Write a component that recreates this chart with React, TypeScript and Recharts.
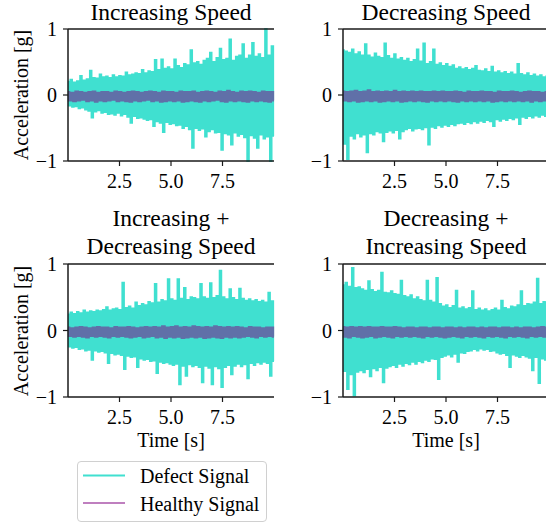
import { LineChart, Line, XAxis, YAxis, ReferenceLine } from 'recharts';

// peak / trough envelopes of the defect signal (g)
const incUp = [
  0.2, 0.23, 0.19, 0.21, 0.29, 0.22, 0.24, 0.37,
  0.26, 0.25, 0.31, 0.27, 0.28, 0.26, 0.3, 0.27,
  0.29, 0.28, 0.34, 0.3, 0.31, 0.33, 0.32, 0.38,
  0.33, 0.36, 0.35, 0.53, 0.38, 0.54, 0.4, 0.42,
  0.39, 0.54, 0.44, 0.41, 0.47, 0.45, 0.68, 0.48,
  0.5, 0.46, 0.52, 0.55, 0.64, 0.5, 0.56, 0.7,
  0.53, 0.55, 0.84, 0.52, 0.58, 0.6, 0.77, 0.55,
  0.6, 0.79, 0.58, 0.62, 0.56, 1.0, 0.6, 0.74,
];
const incDown = [
  -0.16, -0.18, -0.17, -0.2, -0.19, -0.22, -0.24, -0.34,
  -0.25, -0.23, -0.27, -0.26, -0.29, -0.28, -0.3, -0.27,
  -0.31, -0.29, -0.33, -0.42, -0.32, -0.35, -0.34, -0.36,
  -0.38, -0.37, -0.47, -0.4, -0.42, -0.56, -0.41, -0.44,
  -0.43, -0.46, -0.45, -0.5, -0.47, -0.52, -0.8, -0.5,
  -0.53, -0.51, -0.63, -0.55, -0.52, -0.57, -0.56, -0.83,
  -0.58, -0.6, -0.75, -0.57, -0.62, -0.59, -0.64, -1.0,
  -0.61, -0.65, -0.8, -0.6, -0.66, -0.63, -1.0, -0.62,
];
const decUp = [
  0.68, 0.66, 0.64, 0.69, 0.62, 0.65, 0.6, 0.77,
  0.6, 0.57, 0.63, 0.58, 0.56, 0.78, 0.59, 0.55,
  0.62, 0.54, 0.56, 0.52, 0.55, 0.5, 0.53, 0.69,
  0.51, 0.78, 0.47, 0.5, 0.69, 0.46, 0.48, 0.44,
  0.47, 0.43, 0.45, 0.4, 0.42, 0.39, 0.41, 0.38,
  0.4, 0.44, 0.37, 0.36, 0.39, 0.35, 0.43, 0.34,
  0.36, 0.33, 0.35, 0.32, 0.34, 0.31, 0.47, 0.32,
  0.3, 0.33, 0.29, 0.31, 0.28, 0.3, 0.27, 0.29,
];
const decDown = [
  -0.74, -0.97, -0.62, -0.66, -0.58, -0.63, -0.6, -0.87,
  -0.58, -0.6, -0.55, -0.57, -0.7, -0.56, -0.54, -0.57,
  -0.53, -0.66, -0.55, -0.52, -0.5, -0.54, -0.51, -0.5,
  -0.52, -0.49, -0.75, -0.48, -0.5, -0.46, -0.48, -0.45,
  -0.47, -0.44, -0.46, -0.43, -0.42, -0.44, -0.41, -0.43,
  -0.4, -0.42, -0.39, -0.41, -0.38, -0.4, -0.47, -0.37,
  -0.39, -0.36, -0.38, -0.35, -0.37, -0.34, -0.44, -0.33,
  -0.35, -0.32, -0.34, -0.31, -0.33, -0.3, -0.32, -0.29,
];
const incDecUp = [
  0.24, 0.27, 0.25, 0.28, 0.26, 0.3, 0.27, 0.29,
  0.28, 0.3, 0.29, 0.31, 0.35, 0.3, 0.32, 0.33,
  0.31, 0.72, 0.34, 0.36, 0.33, 0.42, 0.37, 0.4,
  0.38, 0.43, 0.41, 0.7, 0.42, 0.46, 0.44, 0.77,
  0.47, 0.45, 0.77, 0.48, 0.64, 0.46, 0.5, 0.49,
  0.47, 0.7, 0.5, 0.48, 0.71, 0.49, 0.52, 0.9,
  0.5, 0.47, 0.62, 0.49, 0.46, 0.63, 0.48, 0.45,
  0.47, 0.44, 0.46, 0.43, 0.45, 0.42, 0.57, 0.44,
];
const incDecDown = [
  -0.24, -0.26, -0.25, -0.28, -0.27, -0.3, -0.29, -0.44,
  -0.3, -0.32, -0.31, -0.33, -0.49, -0.34, -0.36, -0.35,
  -0.37, -0.58, -0.38, -0.4, -0.39, -0.55, -0.42, -0.44,
  -0.43, -0.46, -0.45, -0.64, -0.47, -0.49, -0.48, -0.5,
  -0.52, -0.5, -0.81, -0.53, -0.68, -0.51, -0.54, -0.52,
  -0.55, -0.78, -0.53, -0.56, -0.81, -0.54, -0.57, -0.85,
  -0.55, -0.52, -0.66, -0.53, -0.5, -0.54, -0.51, -0.72,
  -0.49, -0.52, -0.48, -0.5, -0.47, -0.49, -0.68, -0.46,
];
const decIncUp = [
  0.68, 0.72, 0.66, 0.94, 0.64, 0.65, 0.62, 0.6,
  0.74, 0.61, 0.58, 0.6, 0.87, 0.57, 0.56, 0.59,
  0.55, 0.54, 0.75, 0.52, 0.5, 0.53, 0.47, 0.5,
  0.46, 0.44, 0.75, 0.45, 0.42, 0.79, 0.4, 0.36,
  0.38, 0.34, 0.37, 0.6, 0.33, 0.35, 0.32, 0.34,
  0.59, 0.31, 0.33, 0.3, 0.32, 0.29, 0.31, 0.33,
  0.3, 0.45, 0.34, 0.32, 0.36, 0.35, 0.38, 0.59,
  0.37, 0.4, 0.39, 0.42, 0.78, 0.4, 0.43, 0.41,
];
const decIncDown = [
  -0.61, -0.88, -0.66, -0.98, -0.62, -0.6, -0.63, -0.58,
  -0.69, -0.57, -0.6, -0.55, -0.78, -0.56, -0.54, -0.52,
  -0.55, -0.5, -0.53, -0.49, -0.51, -0.47, -0.5, -0.46,
  -0.48, -0.44, -0.46, -0.42, -0.43, -0.73, -0.4, -0.38,
  -0.36, -0.39, -0.35, -0.47, -0.33, -0.34, -0.31, -0.3,
  -0.28, -0.3, -0.27, -0.29, -0.28, -0.31, -0.3, -0.33,
  -0.35, -0.34, -0.37, -0.55, -0.36, -0.38, -0.4, -0.37,
  -0.39, -0.41, -0.6, -0.4, -0.79, -0.42, -0.44, -0.41,
];

// healthy signal envelopes
const hIncUp = [
  0.04, 0.03, 0.05, 0.04, 0.03, 0.04, 0.05, 0.03,
  0.04, 0.04, 0.03, 0.05, 0.04, 0.03, 0.04, 0.05,
  0.04, 0.03, 0.04, 0.05, 0.04, 0.03, 0.05, 0.04,
  0.04, 0.03, 0.05, 0.04, 0.04, 0.05, 0.03, 0.04,
  0.05, 0.04, 0.03, 0.05, 0.04, 0.06, 0.04, 0.03,
  0.05, 0.04, 0.05, 0.04, 0.03, 0.05, 0.04, 0.04,
];
const hIncDown = [
  -0.08, -0.09, -0.08, -0.07, -0.09, -0.08, -0.1, -0.08,
  -0.09, -0.08, -0.07, -0.09, -0.08, -0.09, -0.1, -0.08,
  -0.09, -0.08, -0.07, -0.09, -0.08, -0.1, -0.09, -0.08,
  -0.09, -0.08, -0.1, -0.09, -0.08, -0.09, -0.1, -0.08,
  -0.09, -0.08, -0.07, -0.09, -0.1, -0.08, -0.09, -0.08,
  -0.09, -0.1, -0.08, -0.09, -0.08, -0.09, -0.1, -0.08,
];
const hDecUp = [
  0.05, 0.04, 0.05, 0.06, 0.04, 0.05, 0.07, 0.04,
  0.05, 0.04, 0.05, 0.04, 0.06, 0.04, 0.05, 0.04,
  0.05, 0.04, 0.05, 0.04, 0.04, 0.05, 0.04, 0.05,
  0.04, 0.04, 0.05, 0.04, 0.03, 0.05, 0.04, 0.04,
  0.05, 0.04, 0.04, 0.03, 0.05, 0.04, 0.04, 0.05,
  0.04, 0.03, 0.04, 0.05, 0.04, 0.04, 0.03, 0.04,
];
const hDecDown = [
  -0.08, -0.09, -0.08, -0.1, -0.09, -0.08, -0.09, -0.08,
  -0.1, -0.09, -0.08, -0.09, -0.08, -0.1, -0.09, -0.08,
  -0.09, -0.08, -0.09, -0.1, -0.08, -0.09, -0.08, -0.09,
  -0.08, -0.09, -0.1, -0.08, -0.09, -0.08, -0.09, -0.08,
  -0.09, -0.08, -0.1, -0.09, -0.08, -0.09, -0.08, -0.09,
  -0.08, -0.09, -0.08, -0.1, -0.08, -0.09, -0.08, -0.09,
];
const hIncDecUp = [
  0.04, 0.03, 0.04, 0.05, 0.04, 0.03, 0.04, 0.05,
  0.04, 0.04, 0.03, 0.05, 0.04, 0.04, 0.05, 0.04,
  0.03, 0.04, 0.05, 0.04, 0.05, 0.04, 0.06, 0.04,
  0.05, 0.06, 0.04, 0.05, 0.04, 0.06, 0.05, 0.04,
  0.05, 0.04, 0.06, 0.05, 0.04, 0.05, 0.04, 0.05,
  0.04, 0.03, 0.05, 0.04, 0.04, 0.03, 0.04, 0.04,
];
const hIncDecDown = [
  -0.08, -0.09, -0.08, -0.09, -0.1, -0.08, -0.09, -0.08,
  -0.09, -0.1, -0.08, -0.09, -0.08, -0.09, -0.1, -0.09,
  -0.08, -0.1, -0.09, -0.08, -0.1, -0.09, -0.11, -0.09,
  -0.1, -0.09, -0.11, -0.1, -0.09, -0.1, -0.09, -0.11,
  -0.1, -0.09, -0.1, -0.11, -0.09, -0.1, -0.09, -0.1,
  -0.09, -0.08, -0.09, -0.1, -0.08, -0.09, -0.08, -0.09,
];
const hDecIncUp = [
  0.05, 0.04, 0.05, 0.04, 0.05, 0.04, 0.05, 0.04,
  0.04, 0.05, 0.04, 0.04, 0.05, 0.04, 0.03, 0.04,
  0.04, 0.03, 0.04, 0.04, 0.03, 0.04, 0.04, 0.03,
  0.04, 0.04, 0.03, 0.04, 0.03, 0.04, 0.04, 0.03,
  0.04, 0.03, 0.04, 0.04, 0.03, 0.04, 0.04, 0.03,
  0.04, 0.03, 0.04, 0.04, 0.03, 0.04, 0.05, 0.04,
];
const hDecIncDown = [
  -0.09, -0.1, -0.08, -0.09, -0.1, -0.09, -0.08, -0.1,
  -0.09, -0.08, -0.09, -0.1, -0.08, -0.09, -0.08, -0.09,
  -0.08, -0.09, -0.1, -0.08, -0.09, -0.08, -0.09, -0.1,
  -0.09, -0.08, -0.09, -0.1, -0.08, -0.09, -0.08, -0.09,
  -0.1, -0.08, -0.09, -0.08, -0.09, -0.1, -0.08, -0.09,
  -0.08, -0.09, -0.1, -0.08, -0.09, -0.08, -0.09, -0.08,
];

const xTicks = [2.5, 5, 7.5];
const yTicks = [-1, 0, 1];

const DEFECT = '#40e0d0';
const HEALTHY = 'purple';
const INK = '#1a1a1a';
const FONT = '"Liberation Serif", "Times New Roman", serif';

// samples over the 10 s record: peak, trough, peak, ...
function samples(up: number[], down: number[]) {
  const n = up.length * 2;
  return up.flatMap((u, i) => [
    { t: ((2 * i) * 10) / (n - 1), v: u },
    { t: ((2 * i + 1) * 10) / (n - 1), v: down[i] },
  ]);
}

const panels = [
  { title: 'Increasing Speed', up: incUp, down: incDown, hUp: hIncUp, hDown: hIncDown, left: 0, top: 0, plotH: 132, yLabel: true, xLabel: false },
  { title: 'Decreasing Speed', up: decUp, down: decDown, hUp: hDecUp, hDown: hDecDown, left: 275, top: 0, plotH: 132, yLabel: false, xLabel: false },
  { title: 'Increasing +\nDecreasing Speed', up: incDecUp, down: incDecDown, hUp: hIncDecUp, hDown: hIncDecDown, left: 0, top: 235, plotH: 133, yLabel: true, xLabel: true },
  { title: 'Decreasing +\nIncreasing Speed', up: decIncUp, down: decIncDown, hUp: hDecIncUp, hDown: hDecIncDown, left: 275, top: 235, plotH: 133, yLabel: false, xLabel: true },
];

const fmtY = (v: number) => (v < 0 ? '\u2212' + Math.abs(v) : String(v));
const tickStyle = { fill: '#000', fontSize: 20, fontFamily: FONT };

function Panel({ p }: { p: (typeof panels)[number] }) {
  const plotLeft = p.left + 68;
  const plotTop = p.top + 29;
  const cx = plotLeft + 103;
  const twoLines = p.title.includes('\n');
  return (
    <>
      <div style={{ position: 'absolute', left: p.left, top: p.top }}>
        <LineChart width={300} height={29 + p.plotH + 39} margin={{ top: 29, right: 26, bottom: 9, left: 0 }}>
          <XAxis
            dataKey='t'
            type='number'
            domain={[0, 10]}
            ticks={xTicks}
            tickFormatter={(v: number) => v.toFixed(1)}
            tickSize={5}
            tickMargin={7.5}
            height={30}
            axisLine={{ stroke: INK, strokeWidth: 1.5 }}
            tickLine={{ stroke: INK, strokeWidth: 1.2 }}
            tick={tickStyle}
          />
          <YAxis
            dataKey='v'
            type='number'
            domain={[-1, 1]}
            ticks={yTicks}
            tickFormatter={fmtY}
            width={68}
            tickSize={5}
            tickMargin={6}
            axisLine={{ stroke: INK, strokeWidth: 1.5 }}
            tickLine={{ stroke: INK, strokeWidth: 1.2 }}
            tick={tickStyle}
          />
          <Line
            data={samples(p.up, p.down)}
            dataKey='v'
            type='step'
            stroke={DEFECT}
            strokeWidth={1.9}
            dot={false}
            activeDot={false}
            isAnimationActive={false}
          />
          <Line
            data={samples(p.hUp, p.hDown)}
            dataKey='v'
            type='step'
            stroke={HEALTHY}
            strokeOpacity={0.5}
            strokeWidth={2.5}
            dot={false}
            activeDot={false}
            isAnimationActive={false}
          />
          <ReferenceLine y={1} stroke={INK} strokeWidth={1.5} />
        </LineChart>
      </div>
      <div
        style={{
          position: 'absolute',
          left: cx - 150,
          top: twoLines ? p.top - 31 : p.top - 1,
          width: 300,
          textAlign: 'center',
          fontSize: 23.5,
          lineHeight: twoLines ? '28px' : '26px',
          whiteSpace: 'pre-line',
        }}
      >
        {p.title}
      </div>
      {p.yLabel && (
        <div
          style={{
            position: 'absolute',
            left: 20.5 - 100,
            top: plotTop + p.plotH / 2 - 10,
            width: 200,
            height: 20,
            lineHeight: '20px',
            fontSize: 20,
            textAlign: 'center',
            transform: 'rotate(-90deg)',
          }}
        >
          Acceleration [g]
        </div>
      )}
      {p.xLabel && (
        <div
          style={{
            position: 'absolute',
            left: cx - 100,
            top: 430,
            width: 200,
            lineHeight: '20px',
            fontSize: 20,
            textAlign: 'center',
          }}
        >
          Time [s]
        </div>
      )}
    </>
  );
}

export default function App() {
  return (
    <div
      style={{
        position: 'absolute',
        left: 0,
        top: 0,
        width: 546,
        height: 524,
        overflow: 'hidden',
        background: '#fff',
        fontFamily: FONT,
        color: '#000',
      }}
    >
      {panels.map((p) => (
        <Panel key={p.title} p={p} />
      ))}
      <div
        style={{
          position: 'absolute',
          left: 77,
          top: 461,
          width: 188,
          height: 59,
          border: '1px solid #d0d0d0',
          borderRadius: 4,
          background: '#fff',
          fontSize: 20,
        }}
      >
        <svg width={50} height={59} style={{ position: 'absolute', left: 0, top: 0 }}>
          <line x1={5} x2={47} y1={13.5} y2={13.5} stroke={DEFECT} strokeWidth={2} />
          <line x1={5} x2={47} y1={41} y2={41} stroke={HEALTHY} strokeOpacity={0.5} strokeWidth={2} />
        </svg>
        <div style={{ position: 'absolute', left: 62, top: 0, lineHeight: '28px', whiteSpace: 'nowrap' }}>
          Defect Signal
          <br />
          Healthy Signal
        </div>
      </div>
    </div>
  );
}
